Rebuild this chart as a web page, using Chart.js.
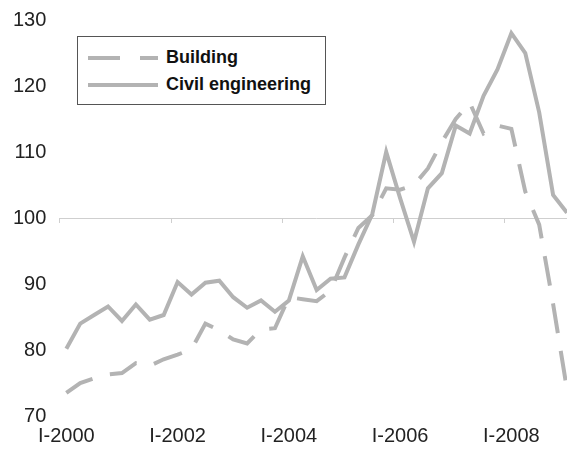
<!DOCTYPE html>
<html lang="en">

<head>
    <meta charset="UTF-8">
    <title>Building and civil engineering</title>
    <style>
        body {
            margin: 0;
            background: #fff;
            overflow: hidden;
        }

        .wrap {
            position: relative;
            width: 567px;
            height: 458px;
            overflow: hidden;
        }

        /* canvas nudged up and out a little so the plot fills the frame like the original */
        .plot {
            position: absolute;
            left: 0;
            top: -5px;
            width: 575px;
            height: 463px;
        }

        /* legend box sits inside the plot, like the original */
        .legend {
            position: absolute;
            left: 77px;
            top: 36px;
            width: 247px;
            height: 67px;
            border: 1.5px solid #555;
            background: #fff;
            font: bold 18px "Liberation Sans", Arial, sans-serif;
            color: #111;
        }

        .legend div {
            position: absolute;
            left: 10px;
            height: 24px;
            line-height: 24px;
            white-space: nowrap;
        }

        .legend svg {
            vertical-align: middle;
            margin-right: 8px;
        }
    </style>
</head>

<body>
    <div class="wrap">
        <div class="plot"><canvas id="chart"></canvas></div>
        <div class="legend">
            <div style="top:8px">
                <svg width="70" height="6"><line x1="0" y1="3" x2="70" y2="3" stroke="#b3b3b3" stroke-width="4" stroke-dasharray="32 20" /></svg>Building
            </div>
            <div style="top:35px">
                <svg width="70" height="6"><line x1="0" y1="3" x2="70" y2="3" stroke="#b3b3b3" stroke-width="4" /></svg>Civil engineering
            </div>
        </div>
    </div>

    <script src="https://cdn.jsdelivr.net/npm/chart.js"></script>
    <script>
        // quarters, I-2000 .. I-2009
        const quarters = [
            "I-2000", "II-2000", "III-2000", "IV-2000",
            "I-2001", "II-2001", "III-2001", "IV-2001",
            "I-2002", "II-2002", "III-2002", "IV-2002",
            "I-2003", "II-2003", "III-2003", "IV-2003",
            "I-2004", "II-2004", "III-2004", "IV-2004",
            "I-2005", "II-2005", "III-2005", "IV-2005",
            "I-2006", "II-2006", "III-2006", "IV-2006",
            "I-2007", "II-2007", "III-2007", "IV-2007",
            "I-2008", "II-2008", "III-2008", "IV-2008",
            "I-2009"
        ];
        const shownLabels = ["I-2000", "I-2002", "I-2004", "I-2006", "I-2008"];

        const building = [
            73.5, 75.0, 75.7, 76.3, 76.5, 78.0, 77.6, 78.6,
            79.3, 80.1, 84.0, 83.0, 81.6, 81.0, 83.1, 83.3,
            88.0, 87.7, 87.4, 89.0, 94.0, 98.5, 100.4, 104.5,
            104.3, 105.0, 107.5, 111.5, 115.0, 117.5, 112.8, 114.0,
            113.5, 104.0, 99.0, 87.0, 74.0
        ];
        const civilEngineering = [
            80.2, 84.0, 85.3, 86.6, 84.4, 86.9, 84.6, 85.3,
            90.3, 88.4, 90.2, 90.5, 88.0, 86.4, 87.5, 85.8,
            87.5, 94.2, 89.1, 90.8, 91.0, 96.0, 100.6, 110.0,
            103.0, 96.4, 104.5, 106.8, 114.0, 112.8, 118.5, 122.5,
            128.0, 125.0, 116.0, 103.5, 100.8
        ];

        const lineGrey = '#b3b3b3';

        // little tick marks hanging under the 100 line, every 8 quarters
        const baseTicks = {
            id: 'baseTicks',
            afterDraw(chart) {
                const x = chart.scales.x, y = chart.scales.y;
                const ctx = chart.ctx;
                const half = (x.getPixelForValue(1) - x.getPixelForValue(0)) / 2;
                const yy = y.getPixelForValue(100);
                ctx.save();
                ctx.strokeStyle = '#cfcfcf';
                ctx.lineWidth = 1;
                for (let i = 0; i < quarters.length; i += 8) {
                    const px = Math.round(x.getPixelForValue(i) - half) + 0.5;
                    ctx.beginPath();
                    ctx.moveTo(px, yy);
                    ctx.lineTo(px, yy + 5);
                    ctx.stroke();
                }
                ctx.restore();
            }
        };

        const ctx = document.getElementById('chart').getContext('2d');
        new Chart(ctx, {
            type: 'line',
            data: {
                labels: quarters,
                datasets: [{
                    label: 'Building',
                    data: building,
                    borderColor: lineGrey,
                    borderWidth: 4,
                    borderDash: [30, 18],
                    pointRadius: 0,
                    tension: 0,
                    fill: false
                }, {
                    label: 'Civil engineering',
                    data: civilEngineering,
                    borderColor: lineGrey,
                    borderWidth: 4,
                    pointRadius: 0,
                    tension: 0,
                    fill: false
                }]
            },
            options: {
                responsive: true,
                maintainAspectRatio: false,
                animation: false,
                layout: {
                    padding: { left: 0, right: 0, top: 0, bottom: 2 }
                },
                plugins: {
                    legend: { display: false },
                    tooltip: { enabled: false }
                },
                scales: {
                    x: {
                        offset: true,
                        grid: { display: false, drawTicks: false },
                        border: { display: false },
                        ticks: {
                            autoSkip: false,
                            maxRotation: 0,
                            padding: 8,
                            color: '#222',
                            font: { family: '"Liberation Sans", Arial, sans-serif', size: 20 },
                            callback: (v, i) => shownLabels.includes(quarters[i]) ? quarters[i] : ''
                        }
                    },
                    y: {
                        min: 70,
                        max: 130,
                        border: { display: false },
                        grid: {
                            drawTicks: false,
                            color: c => c.tick && c.tick.value === 100 ? '#cfcfcf' : 'rgba(0,0,0,0)'
                        },
                        ticks: {
                            stepSize: 10,
                            padding: 13,
                            color: '#222',
                            font: { family: '"Liberation Sans", Arial, sans-serif', size: 20 }
                        }
                    }
                }
            },
            plugins: [baseTicks]
        });
    </script>
</body>

</html>
